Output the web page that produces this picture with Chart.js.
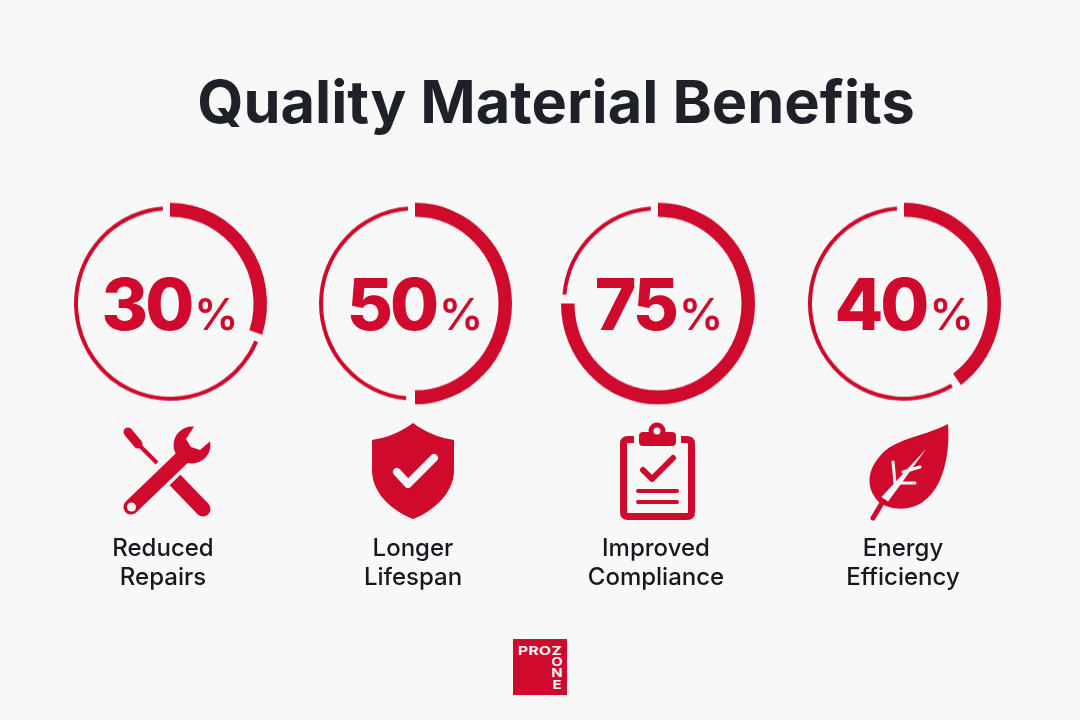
<!DOCTYPE html>
<html>
<head>
<meta charset="utf-8">
<script src="https://cdn.jsdelivr.net/npm/chart.js@4"></script>
<style>
html,body{margin:0;padding:0;background:#f8f8f8;}
#stage{position:relative;width:1080px;height:720px;overflow:hidden;background:#f8f8f8;font-family:Inter,sans-serif;}
#title{position:absolute;left:0;width:1112px;top:65px;text-align:center;font-size:59.5px;line-height:72px;font-weight:700;color:#1f2129;white-space:nowrap;}
canvas{position:absolute;}
.num{position:absolute;top:256px;width:240px;text-align:center;color:#cf0a2c;font-weight:800;font-size:71px;line-height:96px;white-space:nowrap;letter-spacing:-3px;}
.num span{font-size:44px;font-weight:600;margin-left:3px;letter-spacing:0;}
.lab{position:absolute;top:533px;width:240px;text-align:center;color:#17181e;font-weight:500;font-size:24px;line-height:29px;}
#art{position:absolute;left:0;top:0;}
#logo{position:absolute;left:513px;top:639px;width:54px;height:56px;background:#cf0a2c;color:#f8f8f8;font-weight:700;}
#logo .a{position:absolute;left:5px;top:5px;font-size:11.5px;line-height:15px;letter-spacing:.3px;transform:scaleX(1.35);transform-origin:0 0;white-space:nowrap;}
#logo .b{position:absolute;left:33.500px;top:18px;width:20px;text-align:center;font-size:11.5px;line-height:11.300px;transform:scaleX(1.3);}
</style>
</head>
<body>
<div id="stage">
<div id="title"></div>
<svg id="art" width="1080" height="720" viewBox="0 0 1080 720" fill="none" stroke-linejoin="round">
  <!-- wrench and screwdriver -->
  <g>
    <path d="M128 432L138 444" stroke="#cf0a2c" stroke-width="9" stroke-linecap="round"/>
    <path d="M138 444L157 463" stroke="#cf0a2c" stroke-width="4"/>
    <path d="M175 480L203 509" stroke="#cf0a2c" stroke-width="15"/>
    <circle cx="203" cy="509" r="7.500" fill="#cf0a2c"/>
    <path d="M131 507L184 456" stroke="#cf0a2c" stroke-width="15" stroke-linecap="round"/>
    <circle cx="192" cy="445" r="18.500" fill="#cf0a2c"/>
    <path d="M197 422L186 439L191 447L200 450L215 437L215 422Z" fill="#f8f8f8"/>
    <circle cx="131.500" cy="507" r="4.500" fill="#f8f8f8"/>
  </g>
  <!-- shield -->
  <path d="M413 423C400 433 385 438 372 440L372 470C372 495 395 512 413 519C431 512 454 495 454 470L454 440C441 438 426 433 413 423Z" fill="#cf0a2c"/>
  <path d="M397 472L408 484L434 458" stroke="#f8f8f8" stroke-width="8" stroke-linecap="round"/>
  <!-- clipboard -->
  <path d="M634 439.5H628Q623.5 439.5 623.5 444V512Q623.5 516.500 628 516.500H687Q691.500 516.500 691.500 512V444Q691.500 439.500 687 439.500H681" stroke="#cf0a2c" stroke-width="7"/>
  <rect x="639" y="432" width="37" height="14" rx="4" fill="#cf0a2c"/>
  <circle cx="657" cy="431" r="8.500" fill="#cf0a2c"/>
  <circle cx="657" cy="431" r="3.500" fill="#f8f8f8"/>
  <path d="M643 470L652 479L673 458" stroke="#cf0a2c" stroke-width="6" stroke-linecap="round"/>
  <path d="M638 491H677M638 502H677" stroke="#cf0a2c" stroke-width="4" stroke-linecap="round"/>
  <!-- leaf -->
  <path d="M948 424C920 438 895 438 880 456C866 472 866 490 880 503C890 510 912 512 925 500C945 485 950 450 948 424Z" fill="#cf0a2c"/>
  <path d="M873 518L885 498" stroke="#cf0a2c" stroke-width="5" stroke-linecap="round"/>
  <path d="M881.500 497L888 501.500L901 484L926 449Z" fill="#f8f8f8"/>
  <path d="M895 483L893 462M903 472L920 467M896 483L915 483" stroke="#f8f8f8" stroke-width="3" stroke-linecap="round"/>
</svg>
<div id="logo"><div class="a">PROZ</div><div class="b">O<br>N<br>E</div></div>
</div>
<script>
const chartTitle = "Quality Material Benefits";
const percentValues = [30, 50, 75, 40];
const labelLines = [["Reduced","Repairs"],["Longer","Lifespan"],["Improved","Compliance"],["Energy","Efficiency"]];
const gapAfterValue = 1.5;
const gapBeforeTop = 1.2;
const gaugeCenters = [170, 415, 658, 904];
const textCenters = [170, 415, 659, 904];
const labelCenters = [163, 413, 656, 903];
const gaugeMiddleY = 303.5;
const red = "#cf0a2c";

const stage = document.getElementById("stage");
document.getElementById("title").textContent = chartTitle;

function ring(cx, data, colors, outer, inner, stretch) {
  const c = document.createElement("canvas");
  const h = 230 * stretch;
  c.width = 230; c.height = 230;
  c.style.left = (cx - 115) + "px";
  c.style.top = (gaugeMiddleY - h / 2) + "px";
  stage.insertBefore(c, document.getElementById("art"));
  new Chart(c, {
    type: "doughnut",
    data: { datasets: [{ data, backgroundColor: colors, borderWidth: 0, hoverOffset: 0 }] },
    options: {
      responsive: false, animation: false, events: [],
      radius: outer, cutout: (inner / outer * 100) + "%",
      plugins: { legend: { display: false }, tooltip: { enabled: false } }
    }
  });
  c.style.width = "230px";
  c.style.height = h + "px";
}

percentValues.forEach((v, i) => {
  const cx = gaugeCenters[i];
  ring(cx, [v, 100 - v], [red, "rgba(0,0,0,0)"], 97, 83.5, 1.04);
  ring(cx, [v + gapAfterValue, 100 - v - gapAfterValue - gapBeforeTop, gapBeforeTop],
       ["rgba(0,0,0,0)", red, "rgba(0,0,0,0)"], 96, 92, 1.012);
  const n = document.createElement("div");
  n.className = "num";
  n.style.left = (textCenters[i] - 120) + "px";
  n.innerHTML = v + "<span>%</span>";
  stage.appendChild(n);
  const l = document.createElement("div");
  l.className = "lab";
  l.style.left = (labelCenters[i] - 120) + "px";
  l.innerHTML = labelLines[i].join("<br>");
  stage.appendChild(l);
});
</script>
</body>
</html>
